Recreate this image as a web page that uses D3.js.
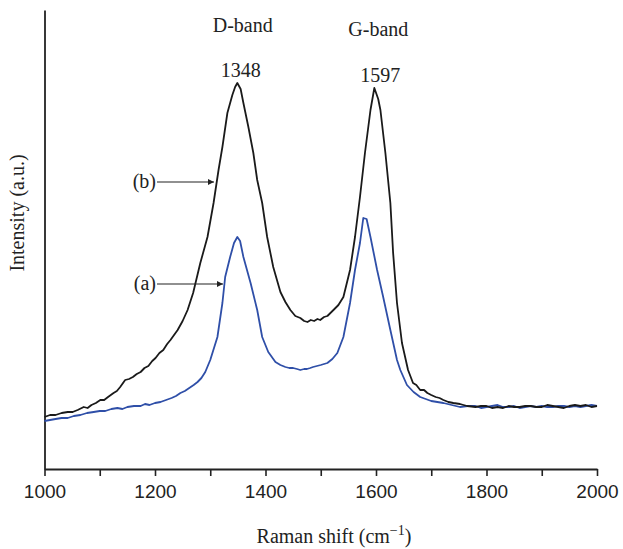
<!DOCTYPE html>
<html>
<head>
<meta charset="utf-8">
<script src="https://cdn.jsdelivr.net/npm/d3@7"></script>
<style>
  body { margin: 0; background: #fff; }
  svg { display: block; }
  .tick text { font-family: "Liberation Sans", Arial, sans-serif; font-size: 19px; fill: #222; }
  .serif { font-family: "Liberation Serif", "Times New Roman", serif; fill: #222; }
</style>
</head>
<body>
<script>
// Raman spectra (shift in cm^-1, intensity in arbitrary units)
const shiftB = [1000, 1010, 1020, 1031, 1042, 1051, 1060, 1071, 1078, 1085, 1093, 1101, 1108, 1115, 1125, 1131, 1137, 1146, 1153, 1160, 1167, 1174, 1181, 1188, 1195, 1201, 1208, 1215, 1222, 1228, 1241, 1250, 1259, 1269, 1282, 1295, 1306, 1315, 1322, 1331, 1340, 1345, 1349, 1355, 1360, 1369, 1378, 1385, 1394, 1403, 1414, 1427, 1436, 1445, 1454, 1463, 1470, 1476, 1482, 1488, 1494, 1499, 1506, 1512, 1523, 1532, 1541, 1553, 1562, 1571, 1580, 1590, 1597, 1604, 1608, 1617, 1626, 1631, 1638, 1647, 1658, 1667, 1673, 1680, 1687, 1693, 1700, 1708, 1715, 1722, 1731, 1740, 1752, 1765, 1780, 1790, 1800, 1810, 1820, 1830, 1840, 1850, 1860, 1870, 1880, 1890, 1900, 1910, 1920, 1930, 1940, 1950, 1960, 1970, 1980, 1990, 2000];
const intensB = [52, 54, 54, 56, 57, 57, 59, 62, 61, 64, 66, 69, 69, 72, 76, 78, 82, 89, 90, 92, 95, 97, 101, 103, 108, 111, 116, 119, 125, 129, 139, 148, 159, 176, 206, 232, 266, 299, 322, 356, 374, 382, 386, 380, 366, 342, 316, 289, 266, 232, 202, 177, 167, 159, 153, 151, 148, 147, 149, 148, 150, 149, 152, 153, 159, 164, 172, 199, 232, 272, 316, 359, 381, 370, 359, 316, 266, 216, 166, 126, 99, 86, 84, 79, 79, 76, 74, 72, 71, 69, 67, 66, 65, 63, 62, 63, 63, 61, 62, 61, 63, 62, 62, 63, 63, 62, 62, 64, 63, 62, 61, 63, 64, 63, 64, 62, 63];

const shiftA = [1000, 1010, 1020, 1031, 1042, 1053, 1065, 1077, 1089, 1100, 1110, 1121, 1132, 1141, 1150, 1162, 1174, 1182, 1190, 1200, 1210, 1220, 1230, 1238, 1246, 1254, 1262, 1270, 1277, 1284, 1291, 1300, 1313, 1322, 1327, 1336, 1343, 1349, 1354, 1360, 1373, 1385, 1394, 1405, 1418, 1427, 1436, 1443, 1450, 1457, 1463, 1470, 1475, 1481, 1486, 1493, 1500, 1506, 1512, 1521, 1530, 1541, 1553, 1562, 1571, 1577, 1583, 1590, 1602, 1613, 1626, 1638, 1644, 1656, 1668, 1680, 1690, 1700, 1711, 1722, 1737, 1752, 1766, 1780, 1790, 1800, 1810, 1820, 1830, 1840, 1850, 1860, 1870, 1880, 1890, 1900, 1910, 1920, 1930, 1940, 1950, 1960, 1970, 1980, 1990, 2000];
const intensA = [48, 49, 50, 51, 51, 53, 54, 56, 57, 58, 58, 60, 61, 60, 62, 63, 63, 65, 64, 66, 67, 69, 71, 73, 76, 78, 81, 84, 87, 91, 97, 109, 132, 166, 192, 212, 226, 232, 228, 212, 186, 159, 132, 117, 107, 104, 102, 101, 101, 100, 99, 100, 100, 101, 102, 103, 104, 105, 106, 110, 116, 132, 166, 199, 226, 251, 250, 232, 199, 172, 139, 109, 99, 84, 77, 72, 70, 68, 67, 66, 64, 62, 63, 63, 61, 62, 63, 64, 62, 62, 63, 61, 62, 63, 62, 63, 62, 62, 63, 63, 62, 63, 62, 63, 64, 63];

const xTicks = [1000, 1100, 1200, 1300, 1400, 1500, 1600, 1700, 1800, 1900, 2000];
const bandNames = ["D-band", "G-band"];
const bandPeaks = [1348, 1597];
const curveNames = ["(b)", "(a)"];

const width = 623, height = 549;
const svg = d3.select("body").append("svg")
  .attr("width", width)
  .attr("height", height);

const x = d3.scaleLinear().domain([1000, 2000]).range([44.5, 597]);
const y = d3.scaleLinear().domain([0, 459]).range([469, 10]);

const line = d3.line()
  .x(d => x(d[0]))
  .y(d => y(d[1]));

// axes
const xAxis = svg.append("g")
  .attr("transform", `translate(0,${y(0)})`)
  .call(d3.axisBottom(x)
    .tickValues(xTicks)
    .tickSize(7)
    .tickSizeOuter(0)
    .tickPadding(9)
    .tickFormat(d => d % 200 === 0 ? d : ""));
xAxis.select(".domain").attr("stroke", "#222").attr("stroke-width", 1.8);
xAxis.selectAll(".tick line").attr("stroke", "#222").attr("stroke-width", 1.6);

const yAxis = svg.append("g")
  .attr("transform", `translate(${x(1000)},0)`)
  .call(d3.axisLeft(y).tickValues([]).tickSizeOuter(0));
yAxis.select(".domain").attr("stroke", "#222").attr("stroke-width", 1.8);

// spectra
svg.append("path")
  .datum(d3.zip(shiftA, intensA))
  .attr("fill", "none")
  .attr("stroke", "#2f4fa8")
  .attr("stroke-width", 1.8)
  .attr("stroke-linejoin", "round")
  .attr("d", line);

svg.append("path")
  .datum(d3.zip(shiftB, intensB))
  .attr("fill", "none")
  .attr("stroke", "#1a1a1a")
  .attr("stroke-width", 1.8)
  .attr("stroke-linejoin", "round")
  .attr("d", line);

// band labels
const bandLabelY = [32, 36];
const peakLabelY = [77, 82];
bandNames.forEach((name, i) => {
  svg.append("text").attr("class", "serif")
    .attr("x", x(bandPeaks[i]) + (i === 0 ? 6 : 4))
    .attr("y", bandLabelY[i])
    .attr("text-anchor", "middle")
    .attr("font-size", 20)
    .text(name);
  svg.append("text").attr("class", "serif")
    .attr("x", x(bandPeaks[i]) + (i === 0 ? 4 : 6))
    .attr("y", peakLabelY[i])
    .attr("text-anchor", "middle")
    .attr("font-size", 20)
    .text(bandPeaks[i]);
});

// curve labels with arrows
svg.append("defs").append("marker")
  .attr("id", "arrow")
  .attr("viewBox", "0 0 10 10")
  .attr("refX", 10).attr("refY", 5)
  .attr("markerWidth", 9).attr("markerHeight", 6)
  .attr("markerUnits", "userSpaceOnUse")
  .attr("orient", "auto")
  .append("path")
  .attr("d", "M0,0L10,5L0,10Z")
  .attr("fill", "#222");

const labelY = [182, 284];
const arrowEnd = [214, 223];
curveNames.forEach((name, i) => {
  svg.append("text").attr("class", "serif")
    .attr("x", 156)
    .attr("y", labelY[i] + 6)
    .attr("text-anchor", "end")
    .attr("font-size", 20)
    .text(name);
  svg.append("line")
    .attr("x1", 157).attr("x2", arrowEnd[i])
    .attr("y1", labelY[i]).attr("y2", labelY[i])
    .attr("stroke", "#222")
    .attr("stroke-width", 1.1)
    .attr("marker-end", "url(#arrow)");
});

// axis titles
const xTitle = svg.append("text").attr("class", "serif")
  .attr("x", 334)
  .attr("y", 543)
  .attr("text-anchor", "middle")
  .attr("font-size", 20);
xTitle.append("tspan").text("Raman shift (cm");
xTitle.append("tspan").attr("font-size", 14).attr("dy", -8).text("\u22121");
xTitle.append("tspan").attr("dy", 8).text(")");

svg.append("text").attr("class", "serif")
  .attr("transform", "translate(24,213) rotate(-90)")
  .attr("text-anchor", "middle")
  .attr("font-size", 20)
  .text("Intensity (a.u.)");
</script>
</body>
</html>
